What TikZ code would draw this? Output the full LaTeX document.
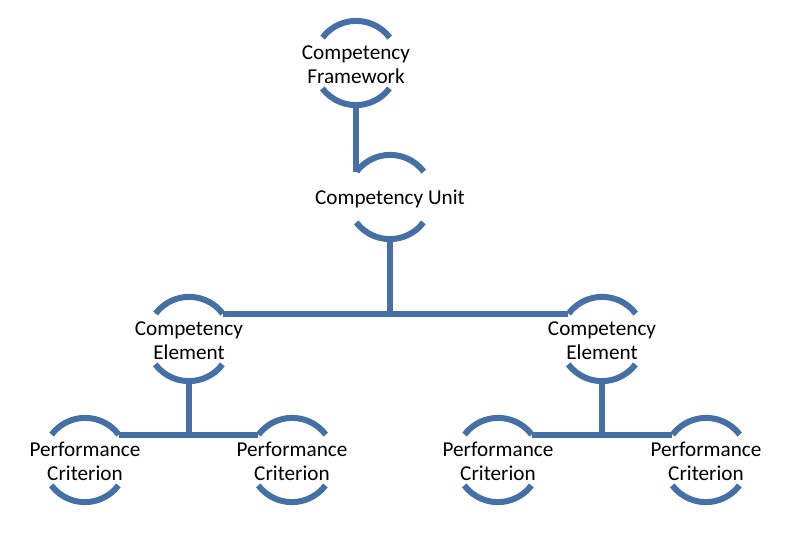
\documentclass[tikz,border=0pt]{standalone}
\usepackage{fontspec}
\setmainfont{Carlito}
\definecolor{linkblue}{RGB}{68,112,166}
\begin{document}
\begin{tikzpicture}[x=1pt, y=-1pt,
    comp/.style={circle, minimum size=84pt, inner sep=0pt,
                 label={[align=center, yshift=-1.5pt, font=\fontsize{21.2}{23.5}\selectfont]center:#1}},
    link/.style={draw=linkblue, line width=6pt},
    brace/.style={draw=linkblue, line width=6pt}]
         \useasboundingbox (0, 0) rectangle (802, 532);
         \node [comp={Competency\\Framework}] (fw) at (356, 63) {};
         \node [comp={Competency Unit}] (unit) at (390, 197) {};
         \node [comp={Competency\\Element}] (elL) at (189, 339) {};
         \node [comp={Competency\\Element}] (elR) at (602, 339) {};
         \node [comp={Performance\\Criterion}] (crLL) at (85, 460) {};
         \node [comp={Performance\\Criterion}] (crLR) at (292, 460) {};
         \node [comp={Performance\\Criterion}] (crRL) at (498, 460) {};
         \node [comp={Performance\\Criterion}] (crRR) at (706, 460) {};
         % the two arcs round each box
         \foreach \n in {fw, unit, elL, elR, crLL, crLR, crRL, crRR} {
           \draw [brace] (\n.37) arc [start angle=37, end angle=143, radius=42pt];
           \draw [brace] (\n.217) arc [start angle=217, end angle=323, radius=42pt];
         }
         \draw [link] (fw.south) -- (fw.south |- unit.143);
         \draw [link] (unit.south) -- (unit.south |- elL.37);
         \draw [link] (elL.37) -- (elR.143);
         \draw [link] (elL.south) -- (elL.south |- crLL.37);
         \draw [link] (crLL.37) -- (crLR.143);
         \draw [link] (elR.south) -- (elR.south |- crRL.37);
         \draw [link] (crRL.37) -- (crRR.143);
        \end{tikzpicture}
\end{document}
